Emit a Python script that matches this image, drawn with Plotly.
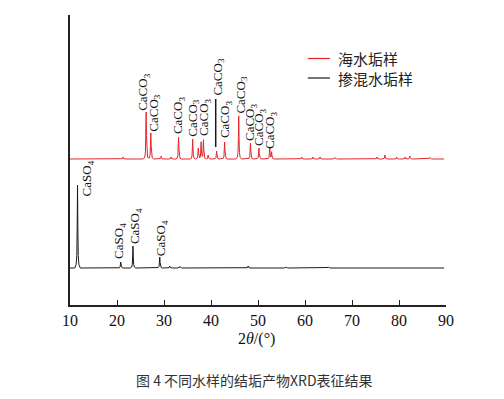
import numpy as np
import plotly.graph_objects as go

# ---- data (intensities in arbitrary units) ----
sea_peaks_2theta = [21.3, 26.2, 27.2, 29.4, 31.5, 33.1, 36.1, 37.3, 37.9, 38.4, 39.4, 41.2, 42.9,
                    45.9, 48.4, 50.2, 52.5, 52.9, 59.3, 61.7, 63.2, 66.4, 75.3, 77.0, 79.5,
                    81.3, 82.3, 86.6]
sea_peaks_int = [2, 47, 26, 3, 2, 22, 20, 11, 17, 19, 4, 8, 17,
                 43, 16, 11, 12, 7, 2, 2, 2, 1.5, 2, 4, 2,
                 2, 3, 1.5]

mix_peaks_2theta = [11.6, 20.8, 23.4, 29.1, 31.2, 33.4, 47.9, 56.0, 65.0]
mix_peaks_int = [83, 6, 22, 11, 2, 1.5, 2, 1, 1]

sea_offset = 146
mix_offset = 37

caco3_label_x = [25.5, 27.8, 33.0, 36.1, 38.5, 41.4, 43.0, 46.3, 48.3, 50.2, 52.55]
caco3_label_y = [193, 172, 170, 167, 168, 208, 166, 190, 163, 158, 155]
caso4_label_x = [13.7, 20.4, 23.85, 29.4]
caso4_label_y = [108, 45, 60, 48]

series_names = ["海水垢样", "掺混水垢样"]
x_ticks = [10, 20, 30, 40, 50, 60, 70, 80, 90]

# ---- peak profile template (shape only) ----
prof_dx = np.array([-0.6, -0.3, -0.15, -0.07, 0.0, 0.07, 0.15, 0.3, 0.6])
prof_f = np.array([0.0, 0.04, 0.15, 0.5, 1.0, 0.5, 0.15, 0.04, 0.0])


def build(pos, hts, off):
    xs = [10.0, 89.6]
    for p in pos:
        xs.extend(list(p + prof_dx))
    xs = np.unique(np.clip(xs, 10.0, 89.6))
    ys = np.full_like(xs, float(off))
    for p, h in zip(pos, hts):
        ys += np.interp(xs, p + prof_dx, h * prof_f, left=0, right=0)
    return xs, ys


sx, sy = build(sea_peaks_2theta, sea_peaks_int, sea_offset)
mx, my = build(mix_peaks_2theta, mix_peaks_int, mix_offset)

RED = "#e3262b"
BLK = "#1a1a1a"
SERIF = "Liberation Serif, Times New Roman, serif"

fig = go.Figure()
fig.add_trace(go.Scatter(x=sx, y=sy, mode="lines", name=series_names[0],
                         line=dict(color=RED, width=1), showlegend=False))
fig.add_trace(go.Scatter(x=mx, y=my, mode="lines", name=series_names[1],
                         line=dict(color=BLK, width=1), showlegend=False))

lab_font = dict(family=SERIF, size=13, color="#111")
for x, y in zip(caco3_label_x, caco3_label_y):
    fig.add_annotation(x=x, y=y, xref="x", yref="y", text="CaCO<sub>3</sub>",
                       textangle=-90, showarrow=False, xanchor="center", yanchor="bottom",
                       font=lab_font, borderpad=0)
for x, y in zip(caso4_label_x, caso4_label_y):
    fig.add_annotation(x=x, y=y, xref="x", yref="y", text="CaSO<sub>4</sub>",
                       textangle=-90, showarrow=False, xanchor="center", yanchor="bottom",
                       font=lab_font, borderpad=0)

# leader line for the CaCO3 label at ~41
fig.add_shape(type="line", x0=41.0, x1=41.0, y0=158, y1=206, xref="x", yref="y",
              line=dict(color=BLK, width=1.5))

# legend (drawn manually for exact sizing)
for yv, col in [(246.5, RED), (227, BLK)]:
    fig.add_shape(type="line", x0=60.6, x1=65.3, y0=yv, y1=yv, xref="x", yref="y",
                  line=dict(color=col, width=1.2))
fig.add_annotation(x=66.5, y=236.75, xref="x", yref="y", text="<br>".join(series_names),
                   showarrow=False, xanchor="left", yanchor="middle", align="left",
                   font=dict(family="Noto Sans CJK SC", size=15, color="#222"))

# axis title
fig.add_annotation(x=0.497, y=-0.118, xref="paper", yref="paper",
                   text="2<i>θ</i>/(°)", showarrow=False, xanchor="center", yanchor="middle",
                   font=dict(family=SERIF, size=16, color="#111"))

# caption
fig.add_annotation(x=0.492, y=-0.259, xref="paper", yref="paper",
                   text="图 4 不同水样的结垢产物XRD表征结果", showarrow=False,
                   xanchor="center", yanchor="middle",
                   font=dict(family="Noto Sans CJK SC", size=14, color="#333"))

fig.update_layout(
    width=504, height=399,
    margin=dict(l=70, r=58, t=15, b=94),
    paper_bgcolor="white", plot_bgcolor="white",
    xaxis=dict(range=[10, 90], tickvals=x_ticks, ticks="inside", ticklen=5, tickwidth=1.3,
               tickcolor="#222", showline=True, linecolor="#222", linewidth=1.5,
               showgrid=False, zeroline=False,
               tickfont=dict(family=SERIF, size=16, color="#111")),
    yaxis=dict(range=[0, 290], showline=True, linecolor="#222", linewidth=1.5,
               showticklabels=False, ticks="", showgrid=False, zeroline=False),
)

fig.write_html("out.html")
